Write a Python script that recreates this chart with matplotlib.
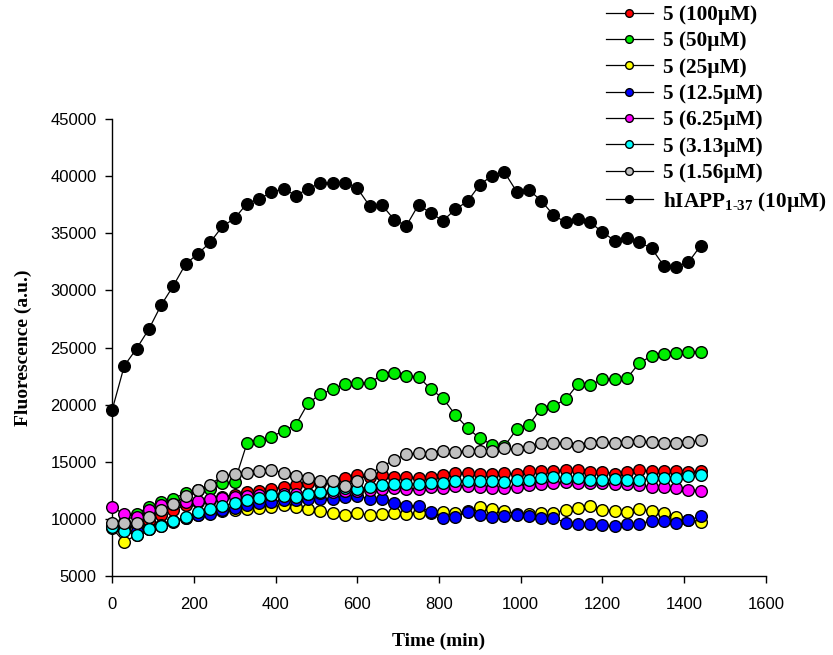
import numpy as np
import matplotlib
matplotlib.use('Agg')
from matplotlib import pyplot as plt

plt.rcParams['mathtext.fontset'] = 'custom'
plt.rcParams['mathtext.rm'] = 'Liberation Serif:bold'
plt.rcParams['mathtext.bf'] = 'Liberation Serif:bold'

# sampling every 30 min over 24 h
time = np.arange(0, 1441, 30)

f_100 = [9500, 9300, 9400, 9800, 10320, 10760, 11200, 11450, 11650, 11950,
         12100, 12380, 12420, 12600, 12820, 12950, 13120, 13100, 13250, 13550,
         13800, 13650, 13830, 13700, 13680, 13600, 13680, 13830, 14030, 14030,
         13970, 13970, 14030, 13910, 14200, 14200, 14200, 14320, 14260, 14120,
         14120, 13970, 14120, 14260, 14180, 14180, 14180, 14120, 14180]
f_50 = [9400, 9700, 10450, 11050, 11500, 11750, 12300, 12500, 12650, 13100,
        13250, 16600, 16800, 17200, 17700, 18250, 20150, 20900, 21350, 21800,
        21900, 21900, 22600, 22750, 22500, 22450, 21350, 20550, 19100, 17950,
        17050, 16500, 16350, 17850, 18250, 19650, 19900, 20450, 21800, 21700,
        22250, 22200, 22300, 23650, 24250, 24400, 24500, 24600, 24650]
f_25 = [9200, 7980, 8600, 9100, 9500, 9800, 10050, 10300, 10600, 10700,
        10750, 10900, 10960, 11050, 11200, 11050, 10850, 10670, 10520, 10320,
        10520, 10320, 10400, 10520, 10460, 10520, 10500, 10600, 10550, 10650,
        11000, 10900, 10700, 10470, 10420, 10520, 10500, 10820, 10960, 11100,
        10820, 10700, 10600, 10850, 10690, 10520, 10170, 9940, 9750]
f_12 = [9400, 9000, 8900, 9100, 9350, 9700, 10050, 10350, 10470, 10760,
        10960, 11200, 11350, 11500, 11650, 11650, 11780, 11780, 11780, 11950,
        12000, 11780, 11780, 11400, 11120, 11100, 10600, 10120, 10170, 10600,
        10320, 10170, 10230, 10320, 10230, 10120, 10120, 9650, 9590, 9530,
        9440, 9360, 9530, 9590, 9820, 9820, 9650, 9880, 10230]
f_6 = [11050, 10400, 10170, 10760, 11200, 11320, 11490, 11580, 11720, 11860,
       11920, 12000, 12070, 12100, 12150, 12220, 12220, 12300, 12350, 12450,
       12450, 12550, 12650, 12700, 12620, 12650, 12800, 12730, 12860, 12860,
       12780, 12720, 12660, 12800, 12950, 13040, 13100, 13240, 13180, 13100,
       13100, 13040, 13080, 12950, 12800, 12800, 12660, 12570, 12450]
f_3 = [9300, 8900, 8570, 9090, 9400, 9840, 10170, 10610, 10900, 11140,
       11400, 11630, 11800, 12070, 12020, 11950, 12140, 12310, 12510, 12660,
       12630, 12780, 12950, 13040, 13040, 13070, 13100, 13120, 13330, 13330,
       13340, 13330, 13240, 13390, 13420, 13540, 13640, 13560, 13600, 13390,
       13390, 13450, 13400, 13430, 13540, 13540, 13560, 13740, 13830]
f_1 = [9600, 9600, 9650, 10170, 10750, 11280, 12000, 12500, 13000, 13750,
       13900, 14030, 14180, 14320, 14030, 13740, 13620, 13330, 13300, 12860,
       13330, 13970, 14550, 15170, 15640, 15780, 15700, 15950, 15870, 15930,
       15930, 15950, 16220, 16080, 16300, 16600, 16650, 16600, 16390, 16600,
       16690, 16650, 16720, 16800, 16690, 16650, 16600, 16690, 16890]
f_iapp = [19500, 23400, 24900, 26600, 28700, 30400, 32300, 33200, 34200, 35600,
          36300, 37600, 38000, 38600, 38900, 38300, 38900, 39400, 39400, 39400,
          38950, 37400, 37500, 36200, 35650, 37500, 36750, 36100, 37100, 37800,
          39250, 40050, 40350, 38650, 38800, 37850, 36600, 35950, 36250, 35950,
          35100, 34350, 34600, 34200, 33700, 32150, 32050, 32450, 33900]

series = [f_100, f_50, f_25, f_12, f_6, f_3, f_1, f_iapp]
labels = ['5 (100µM)', '5 (50µM)', '5 (25µM)', '5 (12.5µM)', '5 (6.25µM)',
          '5 (3.13µM)', '5 (1.56µM)', r'hIAPP$_{\mathbf{1\text{-}37}}$ (10µM)']
colors = ['#ff0000', '#00ee00', '#ffff00', '#0000ff', '#ff00ff', '#00ffff',
          '#c0c0c0', '#000000']

fig = plt.figure(figsize=(8.33, 6.55), dpi=100)
ax = fig.add_axes([0.1345, 0.1206, 0.785, 0.6977])

for i, (y, lab, c) in enumerate(zip(series, labels, colors)):
    ax.plot(time, y, '-o', color='black', lw=0.9, marker='o', ms=8.4,
            mfc=c, mec='black', mew=1.0, label=lab, zorder=2 + i, clip_on=False)

ax.set_xlim(0, 1600)
ax.set_ylim(5000, 45000)
ax.set_xticks(np.arange(0, 1601, 200))
ax.set_yticks(np.arange(5000, 45001, 5000))
for s in ['top', 'right']:
    ax.spines[s].set_visible(False)
for s in ['left', 'bottom']:
    ax.spines[s].set_linewidth(1.0)
ax.tick_params(direction='out', length=5, width=1.0, labelsize=12,
               labelfontfamily='Liberation Sans')
ax.tick_params(axis='x', pad=10)
ax.tick_params(axis='y', pad=6)

ax.set_xlabel('Time (min)', fontfamily='Liberation Serif', fontweight='bold',
              fontsize=14)
ax.xaxis.set_label_coords(0.5, -0.124)
ax.set_ylabel('Fluorescence (a.u.)', fontfamily='Liberation Serif',
              fontweight='bold', fontsize=14)
ax.yaxis.set_label_coords(-0.123, 0.5)

leg = fig.legend(loc='upper left', bbox_to_anchor=(606 / 833, 1 - 5 / 655),
                 frameon=False, borderpad=0, borderaxespad=0,
                 handlelength=2.2, handletextpad=0.5, labelspacing=0.3,
                 markerscale=0.66,
                 prop={'family': 'Liberation Serif', 'weight': 'bold', 'size': 15.3})

fig.savefig('out.png', dpi=100)
